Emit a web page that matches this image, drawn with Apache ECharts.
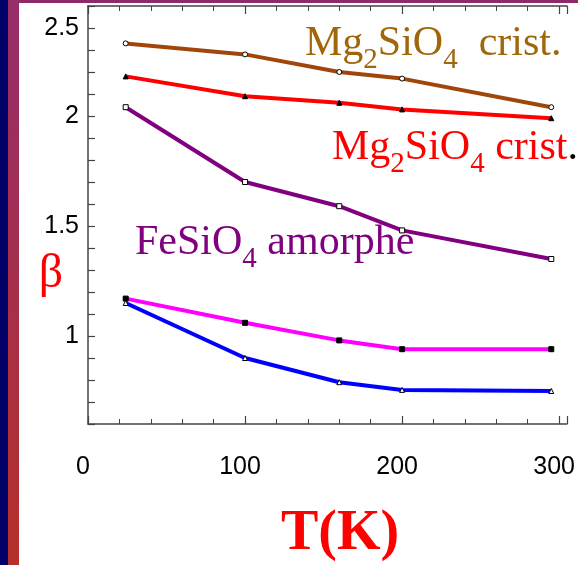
<!DOCTYPE html>
<html>
<head>
<meta charset="utf-8">
<script src="https://cdn.jsdelivr.net/npm/echarts@6/dist/echarts.min.js"></script>
<style>html,body{margin:0;padding:0;background:#fff;}#c{width:578px;height:565px;}</style>
</head>
<body>
<div id="c"></div>
<script>
// ---- data ----
const temperatures = [24, 100, 160, 200, 295];
const mg2sio4Brown = [2.33, 2.28, 2.20, 2.17, 2.04];
const mg2sio4Red   = [2.18, 2.09, 2.06, 2.03, 1.99];
const fesio4Purple = [2.04, 1.70, 1.59, 1.48, 1.35];
const seriesMagenta = [1.17, 1.06, 0.98, 0.94, 0.94];
const seriesBlue    = [1.15, 0.90, 0.79, 0.755, 0.75];
const yTickValues = [1, 1.5, 2, 2.4];
const yTickLabels = ['1', '1.5', '2', '2.5'];
const xTickLabels = ['0', '100', '200', '300'];

function pairs(ys) { return temperatures.map((t, i) => [t, ys[i]]); }

const chart = echarts.init(document.getElementById('c'), null, {renderer: 'canvas'});
const axisColor = '#444';
const sans = '"Liberation Sans", Arial, sans-serif';
const serif = '"Liberation Serif", "Times New Roman", serif';

function mk(name, data, color, symbol, fill) {
  return {
    name, type: 'line', data: pairs(data), symbol, symbolSize: 5,
    lineStyle: {color, width: 4},
    itemStyle: {color: fill, borderColor: '#000', borderWidth: 1},
    z: 3
  };
}

function richText(color) {
  return {
    n: {fontFamily: serif, fontSize: 42, lineHeight: 42, fill: color, verticalAlign: 'top'},
    s: {fontFamily: serif, fontSize: 29, lineHeight: 29, fill: color, verticalAlign: 'top', padding: [23, 0, 0, 0]},
    k: {fontFamily: serif, fontSize: 42, lineHeight: 42, fill: '#000', verticalAlign: 'top'}
  };
}

const xAxisBase = {
  type: 'value', min: 0, max: 305, interval: 100,
  axisLine: {show: true, lineStyle: {color: axisColor, width: 1.5}},
  axisTick: {show: true, inside: true, length: 8, lineStyle: {color: axisColor, width: 1.2}},
  minorTick: {show: true, splitNumber: 5, length: 5, lineStyle: {color: axisColor, width: 1}},
  splitLine: {show: false}
};

chart.setOption({
  animation: false,
  backgroundColor: '#fff',
  grid: {left: 88, right: 0, top: 6, bottom: 141, containLabel: false},
  xAxis: [
    Object.assign({}, xAxisBase, {
      position: 'bottom',
      axisLabel: {
        show: true, margin: 31, fontSize: 25, fontFamily: sans, color: '#000',
        padding: [0, 10, 0, 0],
        formatter: v => { const i = [0, 100, 200, 300].indexOf(v); return i >= 0 ? xTickLabels[i] : ''; }
      }
    }),
    Object.assign({}, xAxisBase, {position: 'top', axisLabel: {show: false}})
  ],
  yAxis: {
    type: 'value', min: 0.6, max: 2.5, interval: 0.1,
    axisLine: {show: true, lineStyle: {color: axisColor, width: 1.5}},
    axisTick: {show: true, inside: true, length: 7, lineStyle: {color: axisColor, width: 1.2}},
    splitLine: {show: false},
    axisLabel: {
      show: true, margin: 9, fontSize: 25, fontFamily: sans, color: '#000',
      formatter: v => {
        const i = yTickValues.findIndex(t => Math.abs(t - v) < 1e-6);
        return i >= 0 ? yTickLabels[i] : '';
      }
    }
  },
  series: [
    mk('Mg2SiO4 crist. (brun)', mg2sio4Brown, '#a0460a', 'circle', '#fff'),
    mk('Mg2SiO4 crist. (rouge)', mg2sio4Red, '#ff0000', 'triangle', '#000'),
    mk('FeSiO4 amorphe', fesio4Purple, '#800080', 'rect', '#fff'),
    mk('série magenta', seriesMagenta, '#ff00ff', 'rect', '#000'),
    mk('série bleue', seriesBlue, '#0000ff', 'triangle', '#fff')
  ],
  graphic: [
    {type: 'rect', left: 0, top: 0, shape: {width: 8, height: 565}, style: {fill: '#000066'}, silent: true},
    {type: 'rect', left: 8, top: 0, shape: {width: 11, height: 565}, silent: true,
      style: {fill: new echarts.graphic.LinearGradient(0, 0, 0, 1, [
        {offset: 0, color: '#962e6c'}, {offset: 1, color: '#b5302a'}])}},
    {type: 'rect', left: 19, top: 0, shape: {width: 559, height: 3}, style: {fill: '#8e2a6a'}, silent: true},
    {type: 'text', x: 305, y: 23, silent: true, z: 10,
      style: {text: '{n|Mg}{s|2}{n|SiO}{s|4}{n|  crist.}', rich: richText('#a0660a'), fill: '#a0660a'}},
    {type: 'text', x: 332, y: 127, silent: true, z: 10,
      style: {text: '{n|Mg}{s|2}{n|SiO}{s|4}{n| crist}{k|.}', rich: richText('#ff0000'), fill: '#ff0000'}},
    {type: 'text', x: 135, y: 222, silent: true, z: 10,
      style: {text: '{n|FeSiO}{s|4}{n| amorphe}', rich: richText('#800080'), fill: '#800080'}},
    {type: 'text', x: 51, y: 274, silent: true, z: 10,
      style: {text: 'β', font: '48px ' + serif, fill: '#ff0000', align: 'center', verticalAlign: 'middle'}},
    {type: 'text', x: 340, y: 535, silent: true, z: 10,
      style: {text: 'T(K)', font: 'bold 56px ' + serif, fill: '#ff0000', align: 'center', verticalAlign: 'middle'}}
  ]
});
</script>
</body>
</html>
